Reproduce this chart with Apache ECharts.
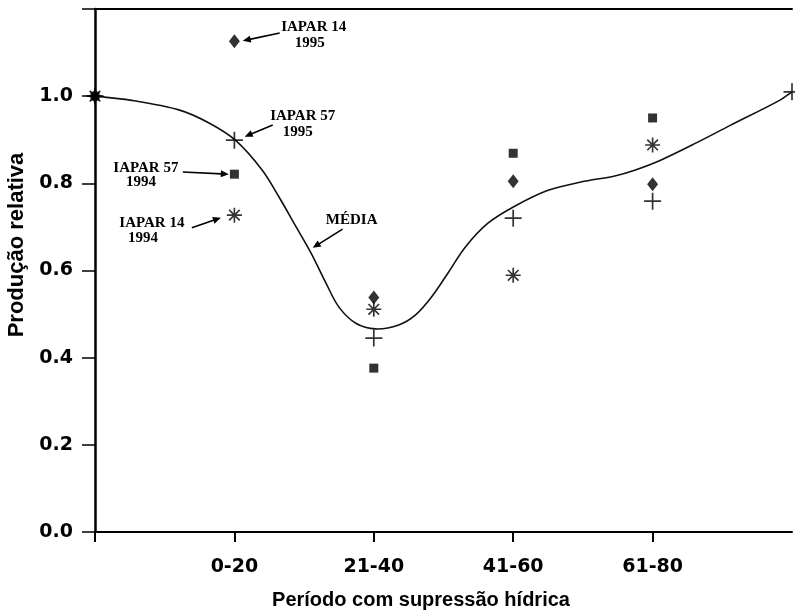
<!DOCTYPE html>
<html>
<head>
<meta charset="utf-8">
<script src="https://cdn.jsdelivr.net/npm/echarts@6/dist/echarts.min.js"></script>
<style>
  html, body { margin: 0; padding: 0; background: #fff; }
  #chart { width: 795px; height: 615px; }
</style>
</head>
<body>
<div id="chart"></div>
<script>
// Water-stress periods (x positions 0..5; the ends carry no label)
const categories = ['', '0-20', '21-40', '41-60', '61-80', ''];

// Relative yield per cultivar / year
const iapar14_1994 = [1.0, 0.727, 0.511, 0.589, 0.888, null];
const iapar14_1995 = [1.0, 1.126, 0.538, 0.805, 0.798, null];
const iapar57_1994 = [1.0, 0.821, 0.376, 0.869, 0.950, null];
const iapar57_1995 = [1.0, 0.899, 0.445, 0.720, 0.759, 1.010];

// Fitted mean curve (MÉDIA)
const mediaX = [0, 0.25, 0.607, 0.821, 1.007, 1.2, 1.321, 1.443, 1.55, 1.657, 1.75, 1.871, 2.014,
                2.179, 2.3, 2.414, 2.536, 2.657, 2.821, 3.014, 3.25, 3.486, 3.729, 3.871, 4.057,
                4.321, 4.557, 4.914, 5.0];
const mediaY = [1.0, 0.991, 0.968, 0.938, 0.899, 0.830, 0.768, 0.700, 0.640, 0.571, 0.516, 0.479, 0.466,
                0.475, 0.498, 0.539, 0.596, 0.654, 0.709, 0.748, 0.784, 0.803, 0.817, 0.830, 0.853,
                0.894, 0.933, 0.991, 1.010];

// Y axis tick values
const yTicks = [0.0, 0.2, 0.4, 0.6, 0.8, 1.0, 1.2];

// Callout texts with their arrows (data coordinates)
const callouts = [
  { lines: [['IAPAR 14', [1.569, 1.159]], ['1995', [1.540, 1.122]]], arrow: [[1.325, 1.145], [1.060, 1.127]] },
  { lines: [['IAPAR 57', [1.490, 0.955]], ['1995', [1.454, 0.918]]], arrow: [[1.275, 0.934], [1.074, 0.907]] },
  { lines: [['IAPAR 57', [0.365, 0.835]], ['1994', [0.330, 0.803]]], arrow: [[0.630, 0.826], [0.960, 0.821]] },
  { lines: [['IAPAR 14', [0.408, 0.709]], ['1994', [0.344, 0.675]]], arrow: [[0.695, 0.698], [0.903, 0.721]] },
  { lines: [['MÉDIA', [1.841, 0.716]]], arrow: [[1.776, 0.695], [1.562, 0.652]] }
];

function toPairs(arr) {
  const out = [];
  arr.forEach((v, i) => { if (v !== null) out.push([i, v]); });
  return out;
}

// Eight-armed asterisk marker built from thin bars
function asteriskPath() {
  let d = '';
  const L = 10, t = 1.1;
  [0, 45, 90, 135].forEach(a => {
    const r = a * Math.PI / 180, c = Math.cos(r), s = Math.sin(r);
    const pts = [[-L, -t], [L, -t], [L, t], [-L, t]].map(([x, y]) => [x * c - y * s, x * s + y * c]);
    d += 'M' + pts.map(p => p[0].toFixed(3) + ',' + p[1].toFixed(3)).join('L') + 'Z';
  });
  return 'path://' + d;
}
const plusPath = 'path://M9,0h2v20h-2zM0,9h20v2h-20z';

// Chord-weighted cubic spline through screen points -> SVG path data
function splinePath(pts) {
  const n = pts.length;
  const dist = (a, b) => Math.hypot(b[0] - a[0], b[1] - a[1]);
  const tan = [];
  for (let i = 0; i < n; i++) {
    if (i === 0) { const d = dist(pts[0], pts[1]); tan.push([(pts[1][0] - pts[0][0]) / d, (pts[1][1] - pts[0][1]) / d]); }
    else if (i === n - 1) { const d = dist(pts[n - 2], pts[n - 1]); tan.push([(pts[n - 1][0] - pts[n - 2][0]) / d, (pts[n - 1][1] - pts[n - 2][1]) / d]); }
    else {
      const d = dist(pts[i - 1], pts[i]) + dist(pts[i], pts[i + 1]);
      tan.push([(pts[i + 1][0] - pts[i - 1][0]) / d, (pts[i + 1][1] - pts[i - 1][1]) / d]);
    }
  }
  let s = 'M' + pts[0][0].toFixed(2) + ' ' + pts[0][1].toFixed(2);
  for (let i = 0; i < n - 1; i++) {
    const d = dist(pts[i], pts[i + 1]) / 3;
    const c1 = [pts[i][0] + tan[i][0] * d, pts[i][1] + tan[i][1] * d];
    const c2 = [pts[i + 1][0] - tan[i + 1][0] * d, pts[i + 1][1] - tan[i + 1][1] * d];
    s += 'C' + [c1[0], c1[1], c2[0], c2[1], pts[i + 1][0], pts[i + 1][1]].map(v => v.toFixed(2)).join(' ');
  }
  return s;
}

const chart = echarts.init(document.getElementById('chart'), null, { renderer: 'canvas' });

const tickFont = { fontFamily: 'DejaVu Sans', fontWeight: 'bold', fontSize: 19, color: '#000' };

chart.setOption({
  animation: false,
  backgroundColor: '#fff',
  grid: { left: 95, right: 2, top: 9, bottom: 83, containLabel: false },
  xAxis: [
    {
      type: 'value', min: 0, max: categories.length - 1, interval: 1,
      axisLine: { show: true, lineStyle: { color: '#000', width: 2 } },
      axisTick: { show: true, inside: false, length: 10, customValues: [0, 1, 2, 3, 4],
                  lineStyle: { color: '#000', width: 2 } },
      axisLabel: Object.assign({ margin: 26, formatter: v => categories[Math.round(v)] || '' }, tickFont),
      splitLine: { show: false }
    },
    {
      type: 'value', min: 0, max: categories.length - 1, position: 'top',
      axisLine: { show: true, lineStyle: { color: '#000', width: 2 } },
      axisTick: { show: false }, axisLabel: { show: false }, splitLine: { show: false }
    }
  ],
  yAxis: {
    type: 'value', min: yTicks[0], max: yTicks[yTicks.length - 1], interval: 0.2,
    axisLine: { show: true, lineStyle: { color: '#000', width: 2.5 } },
    axisTick: { show: true, inside: false, length: 13, lineStyle: { color: '#000', width: 1.5 } },
    axisLabel: Object.assign({
      margin: 22,
      formatter: v => (Math.abs(v - yTicks[yTicks.length - 1]) < 1e-6 ? '' : v.toFixed(1))
    }, tickFont),
    splitLine: { show: false }
  },
  series: [
    {
      name: 'MÉDIA', type: 'custom', z: 2, clip: false,
      data: [[mediaX[0], mediaY[0]]],
      renderItem: (params, api) => {
        const pts = mediaX.map((x, i) => api.coord([x, mediaY[i]]));
        return {
          type: 'path',
          shape: { pathData: splinePath(pts) },
          style: { stroke: '#111', lineWidth: 1.6, fill: null }
        };
      }
    },
    {
      name: 'IAPAR 14 1995', type: 'scatter', symbol: 'diamond', symbolSize: [11, 14], z: 3,
      itemStyle: { color: '#000' }, data: toPairs(iapar14_1995)
    },
    {
      name: 'IAPAR 57 1994', type: 'scatter', symbol: 'rect', symbolSize: 9, z: 3,
      itemStyle: { color: '#000' }, data: toPairs(iapar57_1994)
    },
    {
      name: 'IAPAR 14 1994', type: 'scatter', symbol: asteriskPath(), symbolSize: 15, z: 3,
      itemStyle: { color: '#000' }, data: toPairs(iapar14_1994)
    },
    {
      name: 'IAPAR 57 1995', type: 'scatter', symbol: plusPath, symbolSize: 17, z: 3,
      itemStyle: { color: '#000' }, data: toPairs(iapar57_1995)
    }
  ]
});

// Callouts, axis titles
const px = p => chart.convertToPixel({ gridIndex: 0 }, p);
const elements = [];
callouts.forEach(c => {
  c.lines.forEach(([txt, pos]) => {
    const p = px(pos);
    elements.push({
      type: 'text', x: p[0], y: p[1], z: 10,
      style: { text: txt, fill: '#000', align: 'center', verticalAlign: 'middle',
               font: 'bold 15px "Liberation Serif", "Times New Roman", serif' }
    });
  });
  const a = px(c.arrow[0]), b = px(c.arrow[1]);
  const dx = b[0] - a[0], dy = b[1] - a[1], len = Math.hypot(dx, dy);
  const ux = dx / len, uy = dy / len, head = 8, half = 3.5;
  const bx = b[0] - ux * head, by = b[1] - uy * head;
  elements.push({
    type: 'line', z: 10,
    shape: { x1: a[0], y1: a[1], x2: bx + ux, y2: by + uy },
    style: { stroke: '#000', lineWidth: 1.6 }
  });
  elements.push({
    type: 'polygon', z: 10,
    shape: { points: [[b[0], b[1]], [bx - uy * half, by + ux * half], [bx + uy * half, by - ux * half]] },
    style: { fill: '#000' }
  });
});
elements.push({
  type: 'text', x: 421, y: 600, z: 10,
  style: { text: 'Período com supressão hídrica', fill: '#000', align: 'center', verticalAlign: 'middle',
           font: 'bold 20px "Liberation Sans", Arial, sans-serif' }
});
elements.push({
  type: 'text', x: 17, y: 245, rotation: Math.PI / 2, z: 10,
  style: { text: 'Produção relativa', fill: '#000', align: 'center', verticalAlign: 'middle',
           font: 'bold 22px "Liberation Sans", Arial, sans-serif' }
});
chart.setOption({ graphic: elements });
</script>
</body>
</html>
